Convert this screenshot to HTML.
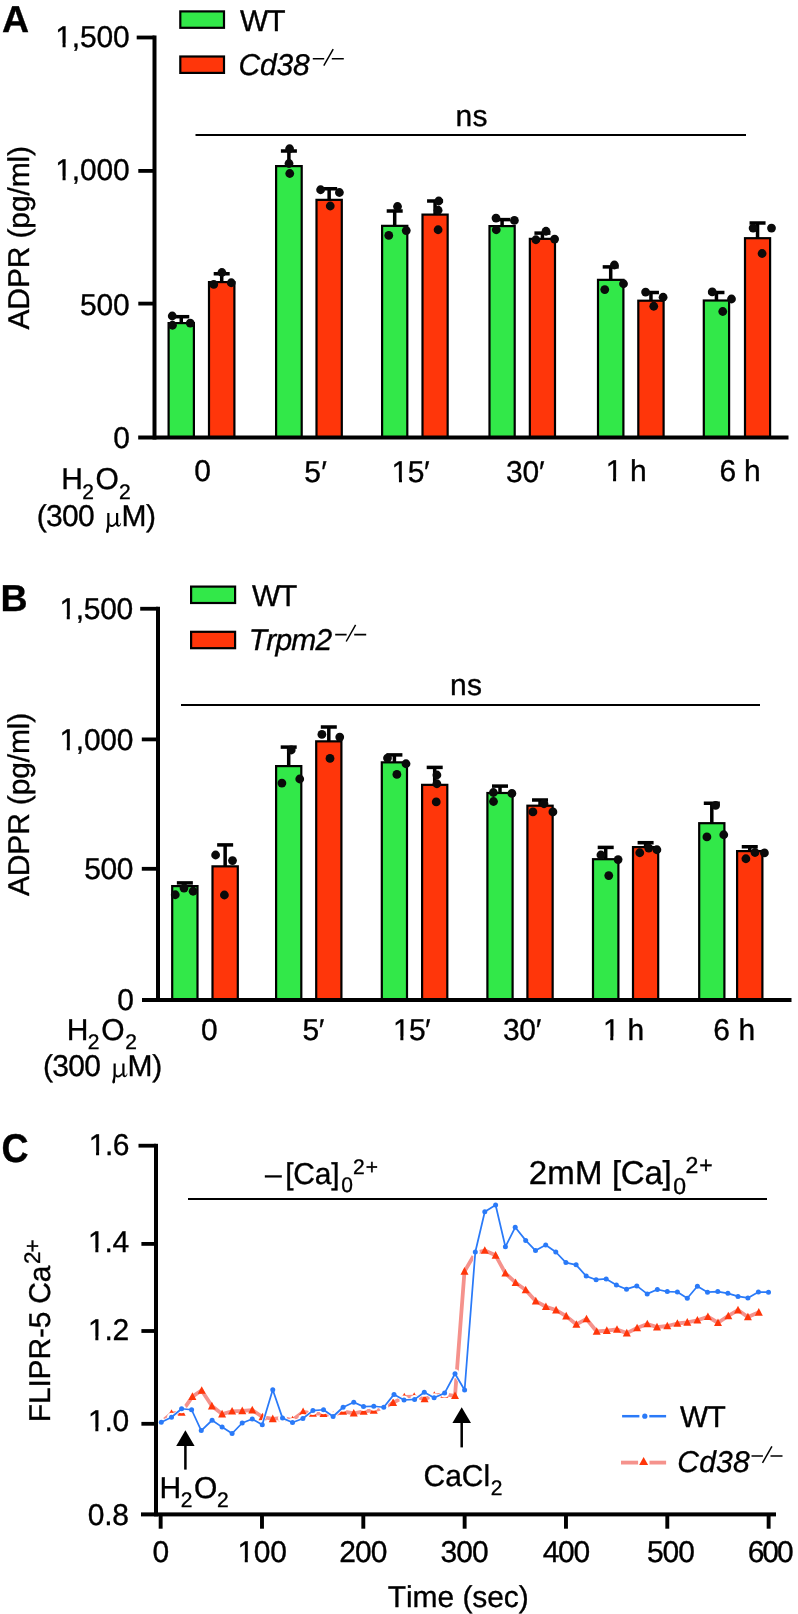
<!DOCTYPE html>
<html><head><meta charset="utf-8"><title>Figure</title>
<style>
html,body{margin:0;padding:0;background:#fff;}
body{width:798px;height:1614px;overflow:hidden;font-family:"Liberation Sans",sans-serif;}
svg{display:block;will-change:transform;}
text{fill:#000;white-space:pre;stroke:#000;stroke-width:0.35px;text-rendering:geometricPrecision;font-kerning:none;}
</style></head><body>
<svg width="798" height="1614" viewBox="0 0 798 1614">
<rect width="798" height="1614" fill="#fff"/>
<rect x="168.60" y="323.10" width="25.30" height="114.40" fill="#32E849" stroke="#000" stroke-width="2.2"/>
<rect x="209.00" y="282.10" width="25.40" height="155.40" fill="#FF360A" stroke="#000" stroke-width="2.2"/>
<rect x="276.10" y="166.10" width="25.60" height="271.40" fill="#32E849" stroke="#000" stroke-width="2.2"/>
<rect x="316.50" y="199.85" width="25.30" height="237.65" fill="#FF360A" stroke="#000" stroke-width="2.2"/>
<rect x="382.10" y="225.85" width="25.20" height="211.65" fill="#32E849" stroke="#000" stroke-width="2.2"/>
<rect x="422.50" y="214.60" width="25.15" height="222.90" fill="#FF360A" stroke="#000" stroke-width="2.2"/>
<rect x="489.50" y="226.10" width="25.20" height="211.40" fill="#32E849" stroke="#000" stroke-width="2.2"/>
<rect x="529.85" y="238.85" width="25.15" height="198.65" fill="#FF360A" stroke="#000" stroke-width="2.2"/>
<rect x="598.00" y="279.85" width="25.40" height="157.65" fill="#32E849" stroke="#000" stroke-width="2.2"/>
<rect x="638.30" y="300.70" width="25.30" height="136.80" fill="#FF360A" stroke="#000" stroke-width="2.2"/>
<rect x="703.80" y="300.50" width="25.30" height="137.00" fill="#32E849" stroke="#000" stroke-width="2.2"/>
<rect x="745.00" y="238.20" width="25.10" height="199.30" fill="#FF360A" stroke="#000" stroke-width="2.2"/>
<rect x="152.5" y="35.5" width="4" height="404.0" fill="#000"/>
<rect x="138.2" y="435.5" width="650.3" height="4" fill="#000"/>
<rect x="136.7" y="35.6" width="17.80000000000001" height="3.8" fill="#000"/>
<rect x="138.29999999999998" y="169.0" width="16.200000000000017" height="3.8" fill="#000"/>
<rect x="138.29999999999998" y="301.70000000000005" width="16.200000000000017" height="3.8" fill="#000"/>
<rect x="173.25" y="314.95" width="16" height="3.5" fill="#000"/>
<rect x="179.50" y="316.70" width="3.5" height="6.30" fill="#000"/>
<rect x="213.70" y="272.00" width="16" height="3.5" fill="#000"/>
<rect x="219.95" y="273.75" width="3.5" height="8.25" fill="#000"/>
<rect x="280.90" y="149.25" width="16" height="3.5" fill="#000"/>
<rect x="287.15" y="151.00" width="3.5" height="15.00" fill="#000"/>
<rect x="321.15" y="187.00" width="16" height="3.5" fill="#000"/>
<rect x="327.40" y="188.75" width="3.5" height="11.00" fill="#000"/>
<rect x="386.70" y="209.25" width="16" height="3.5" fill="#000"/>
<rect x="392.95" y="211.00" width="3.5" height="14.75" fill="#000"/>
<rect x="427.07" y="199.25" width="16" height="3.5" fill="#000"/>
<rect x="433.32" y="201.00" width="3.5" height="13.50" fill="#000"/>
<rect x="494.10" y="217.85" width="16" height="3.5" fill="#000"/>
<rect x="500.35" y="219.60" width="3.5" height="6.40" fill="#000"/>
<rect x="534.42" y="231.35" width="16" height="3.5" fill="#000"/>
<rect x="540.67" y="233.10" width="3.5" height="5.65" fill="#000"/>
<rect x="602.70" y="265.15" width="16" height="3.5" fill="#000"/>
<rect x="608.95" y="266.90" width="3.5" height="12.85" fill="#000"/>
<rect x="642.95" y="290.75" width="16" height="3.5" fill="#000"/>
<rect x="649.20" y="292.50" width="3.5" height="8.10" fill="#000"/>
<rect x="708.45" y="290.75" width="16" height="3.5" fill="#000"/>
<rect x="714.70" y="292.50" width="3.5" height="7.90" fill="#000"/>
<rect x="749.55" y="221.25" width="16" height="3.5" fill="#000"/>
<rect x="755.80" y="223.00" width="3.5" height="15.10" fill="#000"/>
<circle cx="172.25" cy="316" r="4.4" fill="#0a0a0a"/>
<circle cx="172.5" cy="325.25" r="4.4" fill="#0a0a0a"/>
<circle cx="190.25" cy="323.1" r="4.4" fill="#0a0a0a"/>
<circle cx="221.9" cy="272.5" r="4.4" fill="#0a0a0a"/>
<circle cx="213.75" cy="284.4" r="4.4" fill="#0a0a0a"/>
<circle cx="231.25" cy="282.75" r="4.4" fill="#0a0a0a"/>
<circle cx="289.6" cy="148.75" r="4.4" fill="#0a0a0a"/>
<circle cx="289" cy="163.5" r="4.4" fill="#0a0a0a"/>
<circle cx="289.75" cy="173.5" r="4.4" fill="#0a0a0a"/>
<circle cx="320.6" cy="189.75" r="4.4" fill="#0a0a0a"/>
<circle cx="339.4" cy="192.5" r="4.4" fill="#0a0a0a"/>
<circle cx="330.25" cy="206" r="4.4" fill="#0a0a0a"/>
<circle cx="397.5" cy="206.5" r="4.4" fill="#0a0a0a"/>
<circle cx="388.75" cy="235.4" r="4.4" fill="#0a0a0a"/>
<circle cx="406.25" cy="230.6" r="4.4" fill="#0a0a0a"/>
<circle cx="438.75" cy="201" r="4.4" fill="#0a0a0a"/>
<circle cx="438.1" cy="210.25" r="4.4" fill="#0a0a0a"/>
<circle cx="438.1" cy="229.75" r="4.4" fill="#0a0a0a"/>
<circle cx="496" cy="218.1" r="4.4" fill="#0a0a0a"/>
<circle cx="514.4" cy="220.4" r="4.4" fill="#0a0a0a"/>
<circle cx="496.25" cy="229.75" r="4.4" fill="#0a0a0a"/>
<circle cx="546" cy="231.25" r="4.4" fill="#0a0a0a"/>
<circle cx="535.9" cy="239.75" r="4.4" fill="#0a0a0a"/>
<circle cx="554.6" cy="239.1" r="4.4" fill="#0a0a0a"/>
<circle cx="614.4" cy="265" r="4.4" fill="#0a0a0a"/>
<circle cx="623.5" cy="283.75" r="4.4" fill="#0a0a0a"/>
<circle cx="604.75" cy="289.6" r="4.4" fill="#0a0a0a"/>
<circle cx="645.6" cy="292.1" r="4.4" fill="#0a0a0a"/>
<circle cx="663.1" cy="297.25" r="4.4" fill="#0a0a0a"/>
<circle cx="653.75" cy="306.25" r="4.4" fill="#0a0a0a"/>
<circle cx="712.25" cy="291.9" r="4.4" fill="#0a0a0a"/>
<circle cx="731.5" cy="299" r="4.4" fill="#0a0a0a"/>
<circle cx="722.75" cy="311.5" r="4.4" fill="#0a0a0a"/>
<circle cx="753.1" cy="228.1" r="4.4" fill="#0a0a0a"/>
<circle cx="771.5" cy="228.1" r="4.4" fill="#0a0a0a"/>
<circle cx="762.1" cy="253.5" r="4.4" fill="#0a0a0a"/>
<rect x="180.3" y="11.4" width="43.7" height="16.4" fill="#32E849" stroke="#000" stroke-width="2.2"/>
<rect x="180.3" y="56.5" width="43.7" height="16.4" fill="#FF360A" stroke="#000" stroke-width="2.2"/>
<path d="M312.80,58.80h11.4 M331.80,58.80h12.0" stroke="#000" stroke-width="1.55" fill="none"/>
<path d="M323.80,65.70L333.20,49.10" stroke="#000" stroke-width="1.5" fill="none"/>
<rect x="195.5" y="134" width="550.5" height="2" fill="#000"/>
<g transform="translate(0.00,0.00)" fill="#000"><path d="M107.25,512.9 L109.45,512.9 L109.45,524.5 C109.45,527 108.6,528.6 108.75,530.6 C108.85,532.4 108,533.1 107.3,533.1 C106.4,533.1 105.85,532.1 106.05,530.8 C106.4,529 107.25,527.6 107.25,524.5 Z"/><path d="M109.3,522.3 C109.6,524.7 111,525.3 112.5,524.9 C114,524.5 115.4,523.2 116.1,521.6 L116.1,523.9 C115.2,525.4 113.6,526.7 111.8,526.9 C110.3,527 109.4,526.4 109.2,525.8 Z"/><path d="M116,512.9 L118.2,512.9 L118.2,523.4 C118.2,524.6 118.6,525.2 119.3,525.1 C120,525 120.4,524.2 120.5,523.0 L121.15,523.1 C121.05,525.2 120.1,526.7 118.6,526.7 C117,526.7 116,525.5 116,523.8 Z"/></g>
<rect x="172.20" y="886.10" width="25.30" height="113.90" fill="#32E849" stroke="#000" stroke-width="2.2"/>
<rect x="212.50" y="866.35" width="25.30" height="133.65" fill="#FF360A" stroke="#000" stroke-width="2.2"/>
<rect x="276.10" y="766.10" width="25.20" height="233.90" fill="#32E849" stroke="#000" stroke-width="2.2"/>
<rect x="316.20" y="741.35" width="25.20" height="258.65" fill="#FF360A" stroke="#000" stroke-width="2.2"/>
<rect x="381.80" y="762.35" width="25.20" height="237.65" fill="#32E849" stroke="#000" stroke-width="2.2"/>
<rect x="422.10" y="784.85" width="25.20" height="215.15" fill="#FF360A" stroke="#000" stroke-width="2.2"/>
<rect x="487.40" y="793.00" width="25.20" height="207.00" fill="#32E849" stroke="#000" stroke-width="2.2"/>
<rect x="527.40" y="805.70" width="25.25" height="194.30" fill="#FF360A" stroke="#000" stroke-width="2.2"/>
<rect x="593.00" y="859.20" width="25.40" height="140.80" fill="#32E849" stroke="#000" stroke-width="2.2"/>
<rect x="633.00" y="847.10" width="25.20" height="152.90" fill="#FF360A" stroke="#000" stroke-width="2.2"/>
<rect x="699.20" y="823.20" width="25.20" height="176.80" fill="#32E849" stroke="#000" stroke-width="2.2"/>
<rect x="737.10" y="851.10" width="25.30" height="148.90" fill="#FF360A" stroke="#000" stroke-width="2.2"/>
<rect x="156.0" y="606.75" width="4" height="395.25" fill="#000"/>
<rect x="142" y="998.0" width="649.5" height="4" fill="#000"/>
<rect x="140.2" y="606.85" width="17.80000000000001" height="3.8" fill="#000"/>
<rect x="141.79999999999998" y="737.5" width="16.200000000000017" height="3.8" fill="#000"/>
<rect x="141.79999999999998" y="866.9" width="16.200000000000017" height="3.8" fill="#000"/>
<rect x="176.85" y="881.15" width="16" height="3.5" fill="#000"/>
<rect x="183.10" y="882.90" width="3.5" height="3.10" fill="#000"/>
<rect x="217.15" y="843.15" width="16" height="3.5" fill="#000"/>
<rect x="223.40" y="844.90" width="3.5" height="21.35" fill="#000"/>
<rect x="280.70" y="745.35" width="16" height="3.5" fill="#000"/>
<rect x="286.95" y="747.10" width="3.5" height="18.90" fill="#000"/>
<rect x="320.80" y="725.25" width="16" height="3.5" fill="#000"/>
<rect x="327.05" y="727.00" width="3.5" height="14.25" fill="#000"/>
<rect x="386.40" y="753.15" width="16" height="3.5" fill="#000"/>
<rect x="392.65" y="754.90" width="3.5" height="7.35" fill="#000"/>
<rect x="426.70" y="765.65" width="16" height="3.5" fill="#000"/>
<rect x="432.95" y="767.40" width="3.5" height="17.35" fill="#000"/>
<rect x="492.00" y="784.35" width="16" height="3.5" fill="#000"/>
<rect x="498.25" y="786.10" width="3.5" height="6.80" fill="#000"/>
<rect x="532.02" y="798.25" width="16" height="3.5" fill="#000"/>
<rect x="538.27" y="800.00" width="3.5" height="5.60" fill="#000"/>
<rect x="597.70" y="845.65" width="16" height="3.5" fill="#000"/>
<rect x="603.95" y="847.40" width="3.5" height="11.70" fill="#000"/>
<rect x="637.60" y="840.95" width="16" height="3.5" fill="#000"/>
<rect x="643.85" y="842.70" width="3.5" height="4.30" fill="#000"/>
<rect x="703.80" y="801.50" width="16" height="3.5" fill="#000"/>
<rect x="710.05" y="803.25" width="3.5" height="19.85" fill="#000"/>
<rect x="741.75" y="845.00" width="16" height="3.5" fill="#000"/>
<rect x="748.00" y="846.75" width="3.5" height="4.25" fill="#000"/>
<circle cx="184" cy="888.1" r="4.4" fill="#0a0a0a"/>
<circle cx="193.1" cy="891.25" r="4.4" fill="#0a0a0a"/>
<circle cx="175.25" cy="894.75" r="4.4" fill="#0a0a0a"/>
<circle cx="215.6" cy="855" r="4.4" fill="#0a0a0a"/>
<circle cx="232.5" cy="860.6" r="4.4" fill="#0a0a0a"/>
<circle cx="224.4" cy="895" r="4.4" fill="#0a0a0a"/>
<circle cx="291.25" cy="750" r="4.4" fill="#0a0a0a"/>
<circle cx="299.75" cy="779" r="4.4" fill="#0a0a0a"/>
<circle cx="281.9" cy="783.1" r="4.4" fill="#0a0a0a"/>
<circle cx="321.9" cy="734.4" r="4.4" fill="#0a0a0a"/>
<circle cx="339.75" cy="737.1" r="4.4" fill="#0a0a0a"/>
<circle cx="330" cy="758.4" r="4.4" fill="#0a0a0a"/>
<circle cx="387.5" cy="758.1" r="4.4" fill="#0a0a0a"/>
<circle cx="406" cy="763.75" r="4.4" fill="#0a0a0a"/>
<circle cx="396.9" cy="774.4" r="4.4" fill="#0a0a0a"/>
<circle cx="436.9" cy="775" r="4.4" fill="#0a0a0a"/>
<circle cx="436.9" cy="783.75" r="4.4" fill="#0a0a0a"/>
<circle cx="436.25" cy="801.9" r="4.4" fill="#0a0a0a"/>
<circle cx="493.4" cy="792.5" r="4.4" fill="#0a0a0a"/>
<circle cx="511.9" cy="793.4" r="4.4" fill="#0a0a0a"/>
<circle cx="493.5" cy="801.5" r="4.4" fill="#0a0a0a"/>
<circle cx="544" cy="803.75" r="4.4" fill="#0a0a0a"/>
<circle cx="532.9" cy="811.9" r="4.4" fill="#0a0a0a"/>
<circle cx="552.9" cy="811.9" r="4.4" fill="#0a0a0a"/>
<circle cx="600.9" cy="855" r="4.4" fill="#0a0a0a"/>
<circle cx="618.1" cy="859.6" r="4.4" fill="#0a0a0a"/>
<circle cx="608.75" cy="875.6" r="4.4" fill="#0a0a0a"/>
<circle cx="648.75" cy="848.1" r="4.4" fill="#0a0a0a"/>
<circle cx="656.9" cy="849.75" r="4.4" fill="#0a0a0a"/>
<circle cx="639.75" cy="852.75" r="4.4" fill="#0a0a0a"/>
<circle cx="715.6" cy="805.4" r="4.4" fill="#0a0a0a"/>
<circle cx="706.9" cy="836.9" r="4.4" fill="#0a0a0a"/>
<circle cx="723.75" cy="834.75" r="4.4" fill="#0a0a0a"/>
<circle cx="755" cy="852.5" r="4.4" fill="#0a0a0a"/>
<circle cx="764.4" cy="852.9" r="4.4" fill="#0a0a0a"/>
<circle cx="745.9" cy="858.75" r="4.4" fill="#0a0a0a"/>
<rect x="191.1" y="586.6" width="44.0" height="16.4" fill="#32E849" stroke="#000" stroke-width="2.2"/>
<rect x="191.1" y="631.8" width="44.0" height="16.4" fill="#FF360A" stroke="#000" stroke-width="2.2"/>
<path d="M335.20,634.60h11.4 M354.20,634.60h12.0" stroke="#000" stroke-width="1.55" fill="none"/>
<path d="M346.20,641.50L355.60,624.90" stroke="#000" stroke-width="1.5" fill="none"/>
<rect x="181" y="704" width="579" height="2" fill="#000"/>
<g transform="translate(6.30,550.50)" fill="#000"><path d="M107.25,512.9 L109.45,512.9 L109.45,524.5 C109.45,527 108.6,528.6 108.75,530.6 C108.85,532.4 108,533.1 107.3,533.1 C106.4,533.1 105.85,532.1 106.05,530.8 C106.4,529 107.25,527.6 107.25,524.5 Z"/><path d="M109.3,522.3 C109.6,524.7 111,525.3 112.5,524.9 C114,524.5 115.4,523.2 116.1,521.6 L116.1,523.9 C115.2,525.4 113.6,526.7 111.8,526.9 C110.3,527 109.4,526.4 109.2,525.8 Z"/><path d="M116,512.9 L118.2,512.9 L118.2,523.4 C118.2,524.6 118.6,525.2 119.3,525.1 C120,525 120.4,524.2 120.5,523.0 L121.15,523.1 C121.05,525.2 120.1,526.7 118.6,526.7 C117,526.7 116,525.5 116,523.8 Z"/></g>
<polyline points="161.50,1421.95 171.50,1413.45 181.60,1412.35 192.40,1396.58 201.70,1390.45 211.90,1406.08 222.10,1414.08 232.10,1411.28 242.25,1410.85 252.25,1410.12 262.50,1417.00 272.75,1418.90 282.50,1417.95 292.50,1420.10 303.10,1411.88 312.90,1413.45 323.50,1413.75 333.10,1415.45 343.10,1411.35 353.75,1413.28 363.70,1411.35 373.75,1410.45 383.75,1407.95 393.10,1402.62 404.30,1396.95 414.20,1396.65 424.60,1398.90 434.30,1395.45 444.40,1394.45 455.00,1395.78 464.50,1271.40 475.30,1252.95 484.80,1250.55 495.60,1255.35 505.40,1273.30 515.60,1282.70 525.70,1289.95 535.80,1301.15 545.90,1306.75 556.10,1310.15 566.20,1316.15 576.40,1324.45 586.50,1318.95 596.70,1331.50 606.80,1330.65 617.00,1329.45 626.80,1333.10 637.10,1327.95 647.30,1323.95 657.00,1327.10 667.30,1326.00 677.40,1323.50 687.30,1322.35 697.40,1320.25 707.90,1316.75 718.00,1322.75 728.30,1315.95 738.00,1310.10 747.90,1316.95 758.80,1312.35" fill="none" stroke="#F5928C" stroke-width="3.8" stroke-linejoin="round" stroke-linecap="butt"/>
<polygon points="171.50,1409.15 167.50,1416.75 175.50,1416.75" fill="#FF360A"/>
<polygon points="181.60,1408.05 177.60,1415.65 185.60,1415.65" fill="#FF360A"/>
<polygon points="192.40,1392.28 188.40,1399.88 196.40,1399.88" fill="#FF360A"/>
<polygon points="201.70,1386.15 197.70,1393.75 205.70,1393.75" fill="#FF360A"/>
<polygon points="211.90,1401.78 207.90,1409.38 215.90,1409.38" fill="#FF360A"/>
<polygon points="222.10,1409.78 218.10,1417.38 226.10,1417.38" fill="#FF360A"/>
<polygon points="232.10,1406.98 228.10,1414.58 236.10,1414.58" fill="#FF360A"/>
<polygon points="242.25,1406.55 238.25,1414.15 246.25,1414.15" fill="#FF360A"/>
<polygon points="252.25,1405.83 248.25,1413.42 256.25,1413.42" fill="#FF360A"/>
<polygon points="262.50,1412.70 258.50,1420.30 266.50,1420.30" fill="#FF360A"/>
<polygon points="272.75,1414.60 268.75,1422.20 276.75,1422.20" fill="#FF360A"/>
<polygon points="282.50,1413.65 278.50,1421.25 286.50,1421.25" fill="#FF360A"/>
<polygon points="292.50,1415.80 288.50,1423.40 296.50,1423.40" fill="#FF360A"/>
<polygon points="303.10,1407.58 299.10,1415.17 307.10,1415.17" fill="#FF360A"/>
<polygon points="312.90,1409.15 308.90,1416.75 316.90,1416.75" fill="#FF360A"/>
<polygon points="323.50,1409.45 319.50,1417.05 327.50,1417.05" fill="#FF360A"/>
<polygon points="333.10,1411.15 329.10,1418.75 337.10,1418.75" fill="#FF360A"/>
<polygon points="343.10,1407.05 339.10,1414.65 347.10,1414.65" fill="#FF360A"/>
<polygon points="353.75,1408.98 349.75,1416.58 357.75,1416.58" fill="#FF360A"/>
<polygon points="363.70,1407.05 359.70,1414.65 367.70,1414.65" fill="#FF360A"/>
<polygon points="373.75,1406.15 369.75,1413.75 377.75,1413.75" fill="#FF360A"/>
<polygon points="393.10,1398.33 389.10,1405.92 397.10,1405.92" fill="#FF360A"/>
<polygon points="404.30,1392.65 400.30,1400.25 408.30,1400.25" fill="#FF360A"/>
<polygon points="414.20,1392.35 410.20,1399.95 418.20,1399.95" fill="#FF360A"/>
<polygon points="424.60,1394.60 420.60,1402.20 428.60,1402.20" fill="#FF360A"/>
<polygon points="434.30,1391.15 430.30,1398.75 438.30,1398.75" fill="#FF360A"/>
<polygon points="444.40,1390.15 440.40,1397.75 448.40,1397.75" fill="#FF360A"/>
<polygon points="455.00,1391.48 451.00,1399.08 459.00,1399.08" fill="#FF360A"/>
<polygon points="464.50,1267.10 460.50,1274.70 468.50,1274.70" fill="#FF360A"/>
<polygon points="484.80,1246.25 480.80,1253.85 488.80,1253.85" fill="#FF360A"/>
<polygon points="495.60,1251.05 491.60,1258.65 499.60,1258.65" fill="#FF360A"/>
<polygon points="505.40,1269.00 501.40,1276.60 509.40,1276.60" fill="#FF360A"/>
<polygon points="515.60,1278.40 511.60,1286.00 519.60,1286.00" fill="#FF360A"/>
<polygon points="525.70,1285.65 521.70,1293.25 529.70,1293.25" fill="#FF360A"/>
<polygon points="535.80,1296.85 531.80,1304.45 539.80,1304.45" fill="#FF360A"/>
<polygon points="545.90,1302.45 541.90,1310.05 549.90,1310.05" fill="#FF360A"/>
<polygon points="556.10,1305.85 552.10,1313.45 560.10,1313.45" fill="#FF360A"/>
<polygon points="566.20,1311.85 562.20,1319.45 570.20,1319.45" fill="#FF360A"/>
<polygon points="576.40,1320.15 572.40,1327.75 580.40,1327.75" fill="#FF360A"/>
<polygon points="586.50,1314.65 582.50,1322.25 590.50,1322.25" fill="#FF360A"/>
<polygon points="596.70,1327.20 592.70,1334.80 600.70,1334.80" fill="#FF360A"/>
<polygon points="606.80,1326.35 602.80,1333.95 610.80,1333.95" fill="#FF360A"/>
<polygon points="617.00,1325.15 613.00,1332.75 621.00,1332.75" fill="#FF360A"/>
<polygon points="626.80,1328.80 622.80,1336.40 630.80,1336.40" fill="#FF360A"/>
<polygon points="637.10,1323.65 633.10,1331.25 641.10,1331.25" fill="#FF360A"/>
<polygon points="647.30,1319.65 643.30,1327.25 651.30,1327.25" fill="#FF360A"/>
<polygon points="657.00,1322.80 653.00,1330.40 661.00,1330.40" fill="#FF360A"/>
<polygon points="667.30,1321.70 663.30,1329.30 671.30,1329.30" fill="#FF360A"/>
<polygon points="677.40,1319.20 673.40,1326.80 681.40,1326.80" fill="#FF360A"/>
<polygon points="687.30,1318.05 683.30,1325.65 691.30,1325.65" fill="#FF360A"/>
<polygon points="697.40,1315.95 693.40,1323.55 701.40,1323.55" fill="#FF360A"/>
<polygon points="707.90,1312.45 703.90,1320.05 711.90,1320.05" fill="#FF360A"/>
<polygon points="718.00,1318.45 714.00,1326.05 722.00,1326.05" fill="#FF360A"/>
<polygon points="728.30,1311.65 724.30,1319.25 732.30,1319.25" fill="#FF360A"/>
<polygon points="738.00,1305.80 734.00,1313.40 742.00,1313.40" fill="#FF360A"/>
<polygon points="747.90,1312.65 743.90,1320.25 751.90,1320.25" fill="#FF360A"/>
<polygon points="758.80,1308.05 754.80,1315.65 762.80,1315.65" fill="#FF360A"/>
<polyline points="161.25,1422.25 171.50,1417.25 181.60,1408.75 191.60,1409.75 201.25,1430.60 212.10,1420.25 222.10,1427.10 232.10,1433.50 242.20,1423.00 252.25,1419.00 262.25,1424.75 272.75,1389.75 282.50,1418.10 292.50,1422.50 302.90,1418.50 312.90,1410.60 323.50,1409.75 333.10,1416.50 343.10,1407.25 353.75,1402.25 363.50,1406.60 373.75,1406.25 383.75,1407.25 394.00,1394.40 404.00,1400.00 414.60,1399.40 424.30,1392.30 434.10,1397.75 444.60,1393.10 455.00,1373.75 464.60,1390.00 475.30,1252.00 484.80,1211.80 495.60,1205.00 505.40,1246.80 515.20,1227.30 525.70,1240.40 535.50,1250.60 545.70,1245.00 555.80,1252.00 565.90,1262.60 576.10,1264.80 586.20,1276.10 596.10,1279.70 606.20,1278.90 616.40,1285.10 626.50,1289.20 636.80,1285.90 647.20,1293.90 657.35,1289.50 667.30,1291.60 677.40,1292.00 687.30,1298.30 697.40,1286.30 707.50,1292.20 717.80,1291.60 727.90,1293.30 738.00,1296.40 747.90,1297.90 758.40,1292.00 768.50,1292.20" fill="none" stroke="#fff" stroke-width="3.2" stroke-linejoin="round" stroke-linecap="round"/>
<circle cx="161.25" cy="1422.25" r="4.5" fill="#fff"/>
<circle cx="171.5" cy="1417.25" r="4.5" fill="#fff"/>
<circle cx="181.6" cy="1408.75" r="4.5" fill="#fff"/>
<circle cx="191.6" cy="1409.75" r="4.5" fill="#fff"/>
<circle cx="201.25" cy="1430.6" r="4.5" fill="#fff"/>
<circle cx="212.1" cy="1420.25" r="4.5" fill="#fff"/>
<circle cx="222.1" cy="1427.1" r="4.5" fill="#fff"/>
<circle cx="232.1" cy="1433.5" r="4.5" fill="#fff"/>
<circle cx="242.2" cy="1423.0" r="4.5" fill="#fff"/>
<circle cx="252.25" cy="1419.0" r="4.5" fill="#fff"/>
<circle cx="262.25" cy="1424.75" r="4.5" fill="#fff"/>
<circle cx="272.75" cy="1389.75" r="4.5" fill="#fff"/>
<circle cx="282.5" cy="1418.1" r="4.5" fill="#fff"/>
<circle cx="292.5" cy="1422.5" r="4.5" fill="#fff"/>
<circle cx="302.9" cy="1418.5" r="4.5" fill="#fff"/>
<circle cx="312.9" cy="1410.6" r="4.5" fill="#fff"/>
<circle cx="323.5" cy="1409.75" r="4.5" fill="#fff"/>
<circle cx="333.1" cy="1416.5" r="4.5" fill="#fff"/>
<circle cx="343.1" cy="1407.25" r="4.5" fill="#fff"/>
<circle cx="353.75" cy="1402.25" r="4.5" fill="#fff"/>
<circle cx="363.5" cy="1406.6" r="4.5" fill="#fff"/>
<circle cx="373.75" cy="1406.25" r="4.5" fill="#fff"/>
<circle cx="383.75" cy="1407.25" r="4.5" fill="#fff"/>
<circle cx="394.0" cy="1394.4" r="4.5" fill="#fff"/>
<circle cx="404.0" cy="1400.0" r="4.5" fill="#fff"/>
<circle cx="414.6" cy="1399.4" r="4.5" fill="#fff"/>
<circle cx="424.3" cy="1392.3" r="4.5" fill="#fff"/>
<circle cx="434.1" cy="1397.75" r="4.5" fill="#fff"/>
<circle cx="444.6" cy="1393.1" r="4.5" fill="#fff"/>
<circle cx="455.0" cy="1373.75" r="4.5" fill="#fff"/>
<circle cx="464.6" cy="1390.0" r="4.5" fill="#fff"/>
<circle cx="475.3" cy="1252.0" r="4.5" fill="#fff"/>
<circle cx="484.8" cy="1211.8" r="4.5" fill="#fff"/>
<circle cx="495.6" cy="1205.0" r="4.5" fill="#fff"/>
<circle cx="505.4" cy="1246.8" r="4.5" fill="#fff"/>
<circle cx="515.2" cy="1227.3" r="4.5" fill="#fff"/>
<circle cx="525.7" cy="1240.4" r="4.5" fill="#fff"/>
<circle cx="535.5" cy="1250.6" r="4.5" fill="#fff"/>
<circle cx="545.7" cy="1245.0" r="4.5" fill="#fff"/>
<circle cx="555.8" cy="1252.0" r="4.5" fill="#fff"/>
<circle cx="565.9" cy="1262.6" r="4.5" fill="#fff"/>
<circle cx="576.1" cy="1264.8" r="4.5" fill="#fff"/>
<circle cx="586.2" cy="1276.1" r="4.5" fill="#fff"/>
<circle cx="596.1" cy="1279.7" r="4.5" fill="#fff"/>
<circle cx="606.2" cy="1278.9" r="4.5" fill="#fff"/>
<circle cx="616.4" cy="1285.1" r="4.5" fill="#fff"/>
<circle cx="626.5" cy="1289.2" r="4.5" fill="#fff"/>
<circle cx="636.8" cy="1285.9" r="4.5" fill="#fff"/>
<circle cx="647.2" cy="1293.9" r="4.5" fill="#fff"/>
<circle cx="657.35" cy="1289.5" r="4.5" fill="#fff"/>
<circle cx="667.3" cy="1291.6" r="4.5" fill="#fff"/>
<circle cx="677.4" cy="1292.0" r="4.5" fill="#fff"/>
<circle cx="687.3" cy="1298.3" r="4.5" fill="#fff"/>
<circle cx="697.4" cy="1286.3" r="4.5" fill="#fff"/>
<circle cx="707.5" cy="1292.2" r="4.5" fill="#fff"/>
<circle cx="717.8" cy="1291.6" r="4.5" fill="#fff"/>
<circle cx="727.9" cy="1293.3" r="4.5" fill="#fff"/>
<circle cx="738.0" cy="1296.4" r="4.5" fill="#fff"/>
<circle cx="747.9" cy="1297.9" r="4.5" fill="#fff"/>
<circle cx="758.4" cy="1292.0" r="4.5" fill="#fff"/>
<circle cx="768.5" cy="1292.2" r="4.5" fill="#fff"/>
<polyline points="161.25,1422.25 171.50,1417.25 181.60,1408.75 191.60,1409.75 201.25,1430.60 212.10,1420.25 222.10,1427.10 232.10,1433.50 242.20,1423.00 252.25,1419.00 262.25,1424.75 272.75,1389.75 282.50,1418.10 292.50,1422.50 302.90,1418.50 312.90,1410.60 323.50,1409.75 333.10,1416.50 343.10,1407.25 353.75,1402.25 363.50,1406.60 373.75,1406.25 383.75,1407.25 394.00,1394.40 404.00,1400.00 414.60,1399.40 424.30,1392.30 434.10,1397.75 444.60,1393.10 455.00,1373.75 464.60,1390.00 475.30,1252.00 484.80,1211.80 495.60,1205.00 505.40,1246.80 515.20,1227.30 525.70,1240.40 535.50,1250.60 545.70,1245.00 555.80,1252.00 565.90,1262.60 576.10,1264.80 586.20,1276.10 596.10,1279.70 606.20,1278.90 616.40,1285.10 626.50,1289.20 636.80,1285.90 647.20,1293.90 657.35,1289.50 667.30,1291.60 677.40,1292.00 687.30,1298.30 697.40,1286.30 707.50,1292.20 717.80,1291.60 727.90,1293.30 738.00,1296.40 747.90,1297.90 758.40,1292.00 768.50,1292.20" fill="none" stroke="#2A7AF8" stroke-width="1.75" stroke-linejoin="round"/>
<circle cx="161.25" cy="1422.25" r="2.5" fill="#2A7AF8"/>
<circle cx="171.5" cy="1417.25" r="2.5" fill="#2A7AF8"/>
<circle cx="181.6" cy="1408.75" r="2.5" fill="#2A7AF8"/>
<circle cx="191.6" cy="1409.75" r="2.5" fill="#2A7AF8"/>
<circle cx="201.25" cy="1430.6" r="2.5" fill="#2A7AF8"/>
<circle cx="212.1" cy="1420.25" r="2.5" fill="#2A7AF8"/>
<circle cx="222.1" cy="1427.1" r="2.5" fill="#2A7AF8"/>
<circle cx="232.1" cy="1433.5" r="2.5" fill="#2A7AF8"/>
<circle cx="242.2" cy="1423.0" r="2.5" fill="#2A7AF8"/>
<circle cx="252.25" cy="1419.0" r="2.5" fill="#2A7AF8"/>
<circle cx="262.25" cy="1424.75" r="2.5" fill="#2A7AF8"/>
<circle cx="272.75" cy="1389.75" r="2.5" fill="#2A7AF8"/>
<circle cx="282.5" cy="1418.1" r="2.5" fill="#2A7AF8"/>
<circle cx="292.5" cy="1422.5" r="2.5" fill="#2A7AF8"/>
<circle cx="302.9" cy="1418.5" r="2.5" fill="#2A7AF8"/>
<circle cx="312.9" cy="1410.6" r="2.5" fill="#2A7AF8"/>
<circle cx="323.5" cy="1409.75" r="2.5" fill="#2A7AF8"/>
<circle cx="333.1" cy="1416.5" r="2.5" fill="#2A7AF8"/>
<circle cx="343.1" cy="1407.25" r="2.5" fill="#2A7AF8"/>
<circle cx="353.75" cy="1402.25" r="2.5" fill="#2A7AF8"/>
<circle cx="363.5" cy="1406.6" r="2.5" fill="#2A7AF8"/>
<circle cx="373.75" cy="1406.25" r="2.5" fill="#2A7AF8"/>
<circle cx="383.75" cy="1407.25" r="2.5" fill="#2A7AF8"/>
<circle cx="394.0" cy="1394.4" r="2.5" fill="#2A7AF8"/>
<circle cx="404.0" cy="1400.0" r="2.5" fill="#2A7AF8"/>
<circle cx="414.6" cy="1399.4" r="2.5" fill="#2A7AF8"/>
<circle cx="424.3" cy="1392.3" r="2.5" fill="#2A7AF8"/>
<circle cx="434.1" cy="1397.75" r="2.5" fill="#2A7AF8"/>
<circle cx="444.6" cy="1393.1" r="2.5" fill="#2A7AF8"/>
<circle cx="455.0" cy="1373.75" r="2.5" fill="#2A7AF8"/>
<circle cx="464.6" cy="1390.0" r="2.5" fill="#2A7AF8"/>
<circle cx="475.3" cy="1252.0" r="2.5" fill="#2A7AF8"/>
<circle cx="484.8" cy="1211.8" r="2.5" fill="#2A7AF8"/>
<circle cx="495.6" cy="1205.0" r="2.5" fill="#2A7AF8"/>
<circle cx="505.4" cy="1246.8" r="2.5" fill="#2A7AF8"/>
<circle cx="515.2" cy="1227.3" r="2.5" fill="#2A7AF8"/>
<circle cx="525.7" cy="1240.4" r="2.5" fill="#2A7AF8"/>
<circle cx="535.5" cy="1250.6" r="2.5" fill="#2A7AF8"/>
<circle cx="545.7" cy="1245.0" r="2.5" fill="#2A7AF8"/>
<circle cx="555.8" cy="1252.0" r="2.5" fill="#2A7AF8"/>
<circle cx="565.9" cy="1262.6" r="2.5" fill="#2A7AF8"/>
<circle cx="576.1" cy="1264.8" r="2.5" fill="#2A7AF8"/>
<circle cx="586.2" cy="1276.1" r="2.5" fill="#2A7AF8"/>
<circle cx="596.1" cy="1279.7" r="2.5" fill="#2A7AF8"/>
<circle cx="606.2" cy="1278.9" r="2.5" fill="#2A7AF8"/>
<circle cx="616.4" cy="1285.1" r="2.5" fill="#2A7AF8"/>
<circle cx="626.5" cy="1289.2" r="2.5" fill="#2A7AF8"/>
<circle cx="636.8" cy="1285.9" r="2.5" fill="#2A7AF8"/>
<circle cx="647.2" cy="1293.9" r="2.5" fill="#2A7AF8"/>
<circle cx="657.35" cy="1289.5" r="2.5" fill="#2A7AF8"/>
<circle cx="667.3" cy="1291.6" r="2.5" fill="#2A7AF8"/>
<circle cx="677.4" cy="1292.0" r="2.5" fill="#2A7AF8"/>
<circle cx="687.3" cy="1298.3" r="2.5" fill="#2A7AF8"/>
<circle cx="697.4" cy="1286.3" r="2.5" fill="#2A7AF8"/>
<circle cx="707.5" cy="1292.2" r="2.5" fill="#2A7AF8"/>
<circle cx="717.8" cy="1291.6" r="2.5" fill="#2A7AF8"/>
<circle cx="727.9" cy="1293.3" r="2.5" fill="#2A7AF8"/>
<circle cx="738.0" cy="1296.4" r="2.5" fill="#2A7AF8"/>
<circle cx="747.9" cy="1297.9" r="2.5" fill="#2A7AF8"/>
<circle cx="758.4" cy="1292.0" r="2.5" fill="#2A7AF8"/>
<circle cx="768.5" cy="1292.2" r="2.5" fill="#2A7AF8"/>
<rect x="154.0" y="1143.8" width="4" height="372.60000000000014" fill="#000"/>
<rect x="141" y="1512.4" width="635" height="4" fill="#000"/>
<rect x="138.5" y="1143.8" width="17.5" height="3.8" fill="#000"/>
<rect x="141.4" y="1242.0" width="14.599999999999994" height="3.8" fill="#000"/>
<rect x="141.4" y="1329.1" width="14.599999999999994" height="3.8" fill="#000"/>
<rect x="141.4" y="1421.8999999999999" width="14.599999999999994" height="3.8" fill="#000"/>
<rect x="158.70" y="1514.4" width="3.9" height="14.3" fill="#000"/>
<rect x="260.03" y="1514.4" width="3.9" height="14.3" fill="#000"/>
<rect x="361.36" y="1514.4" width="3.9" height="14.3" fill="#000"/>
<rect x="462.69" y="1514.4" width="3.9" height="14.3" fill="#000"/>
<rect x="564.02" y="1514.4" width="3.9" height="14.3" fill="#000"/>
<rect x="665.35" y="1514.4" width="3.9" height="14.3" fill="#000"/>
<rect x="766.68" y="1514.4" width="3.9" height="14.3" fill="#000"/>
<rect x="188" y="1198" width="579" height="2" fill="#000"/>
<polygon points="185.4,1430.2 176.20000000000002,1445.9 194.6,1445.9" fill="#000"/>
<rect x="184.15" y="1444.9" width="2.5" height="24.699999999999818" fill="#000"/>
<polygon points="461.7,1407.3 452.4,1423.1 471.0,1423.1" fill="#000"/>
<rect x="460.45" y="1422.1" width="2.5" height="25.300000000000182" fill="#000"/>
<rect x="622.1" y="1414.95" width="17.3" height="2.5" fill="#2A7AF8"/>
<rect x="649.3" y="1414.95" width="16.8" height="2.5" fill="#2A7AF8"/>
<circle cx="644.8" cy="1416.2" r="2.6" fill="#2A7AF8"/>
<rect x="621.0" y="1460.7" width="17.1" height="3.8" fill="#F5928C"/>
<rect x="649.5" y="1460.7" width="16.6" height="3.8" fill="#F5928C"/>
<polygon points="643.6,1457.0 639.1,1464.9 648.1,1464.9" fill="#FF360A"/>
<path d="M751.50,1456.00h11.4 M770.50,1456.00h12.0" stroke="#000" stroke-width="1.55" fill="none"/>
<path d="M762.50,1462.90L771.90,1446.30" stroke="#000" stroke-width="1.5" fill="none"/>
<text x="2.00" y="32.1" font-size="37.5" font-family="'Liberation Sans'" font-weight="bold">A</text>
<text transform="translate(55.20,46.9) scale(1,1.001)" font-size="30" font-family="'Liberation Sans'" letter-spacing="-0.147">1,500</text>
<text transform="translate(55.20,180) scale(1,1.001)" font-size="30" font-family="'Liberation Sans'" letter-spacing="-0.147">1,000</text>
<text transform="translate(80.00,315) scale(1,1.001)" font-size="30" font-family="'Liberation Sans'" letter-spacing="-0.185">500</text>
<text transform="translate(113.20,448) scale(1,1.001)" font-size="30" font-family="'Liberation Sans'">0</text>
<text transform="translate(240.00,30.8) scale(1,1.001)" font-size="30" font-family="'Liberation Sans'" letter-spacing="-1.015">WT</text>
<text transform="translate(238.60,75.0) scale(1,1.001)" font-size="30" font-family="'Liberation Sans'" font-style="italic" letter-spacing="-0.211">Cd38</text>
<text transform="translate(455.60,126) scale(1,1.001)" font-size="30" font-family="'Liberation Sans'" letter-spacing="0.315">ns</text>
<text transform="translate(194.30,481.3) scale(1,1.001)" font-size="30" font-family="'Liberation Sans'">0</text>
<text transform="translate(304.20,482.1) scale(1,1.001)" font-size="30" font-family="'Liberation Sans'" letter-spacing="0.315">5′</text>
<text transform="translate(391.60,482.1) scale(1,1.001)" font-size="30" font-family="'Liberation Sans'" letter-spacing="-0.434">15′</text>
<text transform="translate(505.90,482.1) scale(1,1.001)" font-size="30" font-family="'Liberation Sans'" letter-spacing="-0.135">30′</text>
<text transform="translate(605.70,480.7) scale(1,1.001)" font-size="30" font-family="'Liberation Sans'" letter-spacing="-0.359">1 h</text>
<text transform="translate(719.40,480.7) scale(1,1.001)" font-size="30" font-family="'Liberation Sans'" letter-spacing="-0.260">6 h</text>
<text transform="translate(61.20,488.7) scale(1,1.001)" font-size="30" font-family="'Liberation Sans'">H</text>
<text transform="translate(82.30,498.5) scale(1,1.001)" font-size="21" font-family="'Liberation Sans'">2</text>
<text transform="translate(95.60,488.7) scale(1,1.001)" font-size="30" font-family="'Liberation Sans'">O</text>
<text transform="translate(119.00,498.5) scale(1,1.001)" font-size="21" font-family="'Liberation Sans'">2</text>
<text transform="translate(36.70,525.7) scale(1,1.001)" font-size="30" font-family="'Liberation Sans'" letter-spacing="-0.686">(300</text>
<text transform="translate(121.50,525.7) scale(1,1.001)" font-size="30" font-family="'Liberation Sans'" letter-spacing="-0.590">M)</text>
<text transform="translate(28.9,329.5) rotate(-90) scale(1,1.001)" x="0.00" y="0" font-size="30" font-family="'Liberation Sans'" letter-spacing="-0.139">ADPR (pg/ml)</text>
<text x="0.60" y="610.9" font-size="37.5" font-family="'Liberation Sans'" font-weight="bold">B</text>
<text transform="translate(59.40,618.7) scale(1,1.001)" font-size="30" font-family="'Liberation Sans'" letter-spacing="-0.297">1,500</text>
<text transform="translate(59.40,750) scale(1,1.001)" font-size="30" font-family="'Liberation Sans'" letter-spacing="-0.247">1,000</text>
<text transform="translate(84.20,879) scale(1,1.001)" font-size="30" font-family="'Liberation Sans'" letter-spacing="-0.385">500</text>
<text transform="translate(117.20,1010) scale(1,1.001)" font-size="30" font-family="'Liberation Sans'">0</text>
<text transform="translate(252.00,606) scale(1,1.001)" font-size="30" font-family="'Liberation Sans'" letter-spacing="-1.315">WT</text>
<text transform="translate(248.80,650) scale(1,1.001)" font-size="30" font-family="'Liberation Sans'" font-style="italic" letter-spacing="-0.848">Trpm2</text>
<text transform="translate(450.10,695) scale(1,1.001)" font-size="30" font-family="'Liberation Sans'" letter-spacing="0.315">ns</text>
<text transform="translate(201.00,1040) scale(1,1.001)" font-size="30" font-family="'Liberation Sans'">0</text>
<text transform="translate(302.60,1040) scale(1,1.001)" font-size="30" font-family="'Liberation Sans'" letter-spacing="-0.485">5′</text>
<text transform="translate(393.00,1040) scale(1,1.001)" font-size="30" font-family="'Liberation Sans'" letter-spacing="-0.634">15′</text>
<text transform="translate(502.90,1040) scale(1,1.001)" font-size="30" font-family="'Liberation Sans'" letter-spacing="-0.235">30′</text>
<text transform="translate(602.90,1040) scale(1,1.001)" font-size="30" font-family="'Liberation Sans'" letter-spacing="-0.159">1 h</text>
<text transform="translate(713.30,1040) scale(1,1.001)" font-size="30" font-family="'Liberation Sans'" letter-spacing="0.090">6 h</text>
<text transform="translate(66.75,1039.6) scale(1,1.001)" font-size="30" font-family="'Liberation Sans'">H</text>
<text transform="translate(87.85,1048.75) scale(1,1.001)" font-size="21" font-family="'Liberation Sans'">2</text>
<text transform="translate(101.15,1039.6) scale(1,1.001)" font-size="30" font-family="'Liberation Sans'">O</text>
<text transform="translate(125.25,1048.75) scale(1,1.001)" font-size="21" font-family="'Liberation Sans'">2</text>
<text transform="translate(42.90,1076.2) scale(1,1.001)" font-size="30" font-family="'Liberation Sans'" letter-spacing="-0.686">(300</text>
<text transform="translate(127.40,1076.2) scale(1,1.001)" font-size="30" font-family="'Liberation Sans'" letter-spacing="-0.190">M)</text>
<text transform="translate(28.8,896) rotate(-90) scale(1,1.001)" x="0.00" y="0" font-size="30" font-family="'Liberation Sans'" letter-spacing="-0.167">ADPR (pg/ml)</text>
<text transform="translate(152.40,1562) scale(1,1.001)" font-size="30" font-family="'Liberation Sans'">0</text>
<text transform="translate(237.40,1562) scale(1,1.001)" font-size="30" font-family="'Liberation Sans'" letter-spacing="-0.259">100</text>
<text transform="translate(339.16,1562) scale(1,1.001)" font-size="30" font-family="'Liberation Sans'" letter-spacing="-0.885">200</text>
<text transform="translate(440.49,1562) scale(1,1.001)" font-size="30" font-family="'Liberation Sans'" letter-spacing="-0.885">300</text>
<text transform="translate(542.82,1562) scale(1,1.001)" font-size="30" font-family="'Liberation Sans'" letter-spacing="-1.385">400</text>
<text transform="translate(647.00,1562) scale(1,1.001)" font-size="30" font-family="'Liberation Sans'" letter-spacing="-1.060">500</text>
<text transform="translate(747.75,1562) scale(1,1.001)" font-size="30" font-family="'Liberation Sans'" letter-spacing="-2.060">600</text>
<text transform="translate(88.70,1154.6) scale(1,1.001)" font-size="30" font-family="'Liberation Sans'" letter-spacing="-0.509">1.6</text>
<text transform="translate(88.00,1251.8) scale(1,1.001)" font-size="30" font-family="'Liberation Sans'" letter-spacing="-0.259">1.4</text>
<text transform="translate(88.00,1340) scale(1,1.001)" font-size="30" font-family="'Liberation Sans'" letter-spacing="-0.259">1.2</text>
<text transform="translate(88.00,1431.0) scale(1,1.001)" font-size="30" font-family="'Liberation Sans'" letter-spacing="-0.259">1.0</text>
<text transform="translate(87.70,1525) scale(1,1.001)" font-size="30" font-family="'Liberation Sans'" letter-spacing="-0.210">0.8</text>
<text transform="translate(387.70,1607) scale(1,1.001)" font-size="30" font-family="'Liberation Sans'" letter-spacing="-0.064">Time (sec)</text>
<text transform="translate(1.40,1162.2) scale(1,1.07)" font-size="37.5" font-family="'Liberation Sans'" font-weight="bold">C</text>
<text transform="translate(50.2,1420.2) rotate(-90) scale(1,1.001)" x="-2.00" y="0" font-size="30" font-family="'Liberation Sans'" letter-spacing="-0.188">FLIPR-5 Ca</text>
<text transform="translate(40.2,1420.2) rotate(-90) scale(1,1.001)" x="156.30" y="0" font-size="22.5" font-family="'Liberation Sans'" letter-spacing="-1.113">2+</text>
<text transform="translate(265.00,1183.5) scale(1,1.001)" font-size="30" font-family="'Liberation Sans'">–</text>
<text transform="translate(285.20,1183.5) scale(1,1.001)" font-size="30" font-family="'Liberation Sans'" letter-spacing="-0.195">[Ca]</text>
<text transform="translate(341.30,1192) scale(1,1.001)" font-size="21" font-family="'Liberation Sans'">0</text>
<text transform="translate(353.00,1173.7) scale(1,1.001)" font-size="21" font-family="'Liberation Sans'" letter-spacing="1.121">2+</text>
<text transform="translate(528.80,1183.8) scale(1,1.001)" font-size="33" font-family="'Liberation Sans'" letter-spacing="0.179">2mM</text>
<text transform="translate(611.90,1183.8) scale(1,1.001)" font-size="33" font-family="'Liberation Sans'" letter-spacing="-0.218">[Ca]</text>
<text transform="translate(673.20,1194.2) scale(1,1.001)" font-size="23" font-family="'Liberation Sans'">0</text>
<text transform="translate(685.60,1172.8) scale(1,1.001)" font-size="23" font-family="'Liberation Sans'" letter-spacing="0.908">2+</text>
<text transform="translate(159.60,1497.6) scale(1,1.001)" font-size="30" font-family="'Liberation Sans'">H</text>
<text transform="translate(180.70,1507.2) scale(1,1.001)" font-size="21" font-family="'Liberation Sans'">2</text>
<text transform="translate(194.00,1497.6) scale(1,1.001)" font-size="30" font-family="'Liberation Sans'">O</text>
<text transform="translate(217.00,1507.2) scale(1,1.001)" font-size="21" font-family="'Liberation Sans'">2</text>
<text transform="translate(423.60,1486) scale(1,1.001)" font-size="30" font-family="'Liberation Sans'" letter-spacing="-0.038">CaCl</text>
<text transform="translate(490.75,1495) scale(1,1.001)" font-size="21" font-family="'Liberation Sans'">2</text>
<text transform="translate(679.90,1426.8) scale(1,1.001)" font-size="30" font-family="'Liberation Sans'" letter-spacing="-0.715">WT</text>
<text transform="translate(677.30,1472) scale(1,1.001)" font-size="30" font-family="'Liberation Sans'" font-style="italic" letter-spacing="0.222">Cd38</text>
<rect x="55.79" y="43.36" width="6.76" height="5.54" fill="#fff"/>
<rect x="65.59" y="43.36" width="6.06" height="5.54" fill="#fff"/>
<rect x="55.79" y="176.46" width="6.76" height="5.54" fill="#fff"/>
<rect x="65.59" y="176.46" width="6.06" height="5.54" fill="#fff"/>
<rect x="392.19" y="478.56" width="6.76" height="5.54" fill="#fff"/>
<rect x="401.99" y="478.56" width="6.06" height="5.54" fill="#fff"/>
<rect x="606.29" y="477.16" width="6.76" height="5.54" fill="#fff"/>
<rect x="616.09" y="477.16" width="6.06" height="5.54" fill="#fff"/>
<rect x="59.99" y="615.16" width="6.76" height="5.54" fill="#fff"/>
<rect x="69.79" y="615.16" width="6.06" height="5.54" fill="#fff"/>
<rect x="59.99" y="746.46" width="6.76" height="5.54" fill="#fff"/>
<rect x="69.79" y="746.46" width="6.06" height="5.54" fill="#fff"/>
<rect x="393.59" y="1036.46" width="6.76" height="5.54" fill="#fff"/>
<rect x="403.39" y="1036.46" width="6.06" height="5.54" fill="#fff"/>
<rect x="603.49" y="1036.46" width="6.76" height="5.54" fill="#fff"/>
<rect x="613.29" y="1036.46" width="6.06" height="5.54" fill="#fff"/>
<rect x="237.99" y="1558.46" width="6.76" height="5.54" fill="#fff"/>
<rect x="247.79" y="1558.46" width="6.06" height="5.54" fill="#fff"/>
<rect x="89.29" y="1151.06" width="6.76" height="5.54" fill="#fff"/>
<rect x="99.09" y="1151.06" width="6.06" height="5.54" fill="#fff"/>
<rect x="88.59" y="1248.26" width="6.76" height="5.54" fill="#fff"/>
<rect x="98.39" y="1248.26" width="6.06" height="5.54" fill="#fff"/>
<rect x="88.59" y="1336.46" width="6.76" height="5.54" fill="#fff"/>
<rect x="98.39" y="1336.46" width="6.06" height="5.54" fill="#fff"/>
<rect x="88.59" y="1427.46" width="6.76" height="5.54" fill="#fff"/>
<rect x="98.39" y="1427.46" width="6.06" height="5.54" fill="#fff"/>
</svg>
</body></html>
